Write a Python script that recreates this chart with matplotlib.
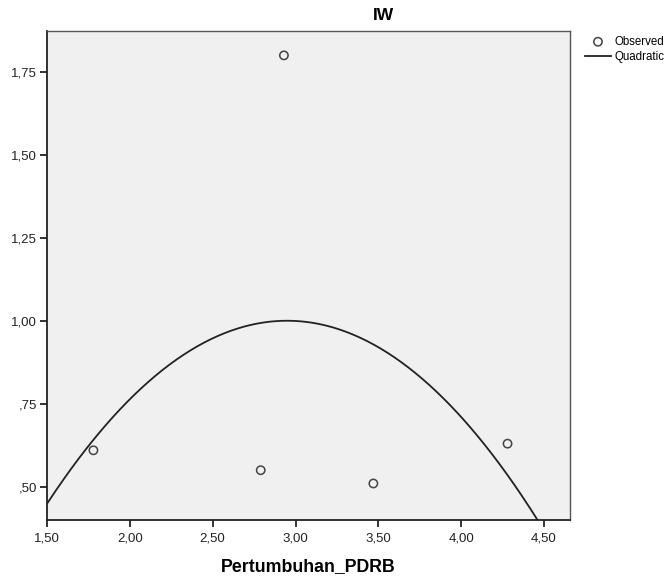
import numpy as np
import matplotlib.pyplot as plt

plt.rcParams['font.family'] = ['Liberation Sans', 'DejaVu Sans']

# observed values
pdrb = [1.78, 2.79, 2.93, 3.47, 4.28]
iw = [0.61, 0.55, 1.80, 0.51, 0.63]

x_ticks = [1.5, 2.0, 2.5, 3.0, 3.5, 4.0, 4.5]
x_labels = ["1,50", "2,00", "2,50", "3,00", "3,50", "4,00", "4,50"]
y_ticks = [0.5, 0.75, 1.0, 1.25, 1.5, 1.75]
y_labels = [",50", ",75", "1,00", "1,25", "1,50", "1,75"]

# quadratic fit of the observed points
coef = np.polyfit(pdrb, iw, 2)

fig = plt.figure(figsize=(6.69, 5.77), dpi=100)
ax = fig.add_axes([0.0703, 0.0988, 0.7817, 0.8472])
ax.set_facecolor('#f0f0f0')

xs = np.linspace(1.5, 4.65, 300)
ax.plot(xs, np.polyval(coef, xs), color='#222222', lw=1.3, label='Quadratic')
ax.scatter(pdrb, iw, s=36, facecolors='none', edgecolors='#444444', lw=1.1,
           label='Observed', zorder=3)

ax.set_xlim(1.5, 4.657)
ax.set_ylim(0.40, 1.873)
ax.set_xticks(x_ticks)
ax.set_xticklabels(x_labels)
ax.set_yticks(y_ticks)
ax.set_yticklabels(y_labels)
ax.tick_params(labelsize=9.5, length=5, width=1.3, colors='#222222', pad=2)
ax.tick_params(axis='x', pad=4)

for s in ['left', 'bottom']:
    ax.spines[s].set_color('#222222')
    ax.spines[s].set_linewidth(1.3)
for s in ['top', 'right']:
    ax.spines[s].set_color('#555555')
    ax.spines[s].set_linewidth(1.0)

fig.text(0.5725, 0.974, 'IW', fontsize=12.5, fontweight='bold',
         ha='center', va='center')
ax.set_xlabel('Pertumbuhan_PDRB', fontsize=12.8, fontweight='bold', labelpad=10)

h, l = ax.get_legend_handles_labels()
fig.legend(h[::-1], l[::-1], loc='upper left', bbox_to_anchor=(0.874, 0.938),
           frameon=False, fontsize=8.3, handlelength=2.3, handletextpad=0.25,
           labelspacing=0.3, borderaxespad=0, borderpad=0)

fig.savefig('out.png', dpi=100)
